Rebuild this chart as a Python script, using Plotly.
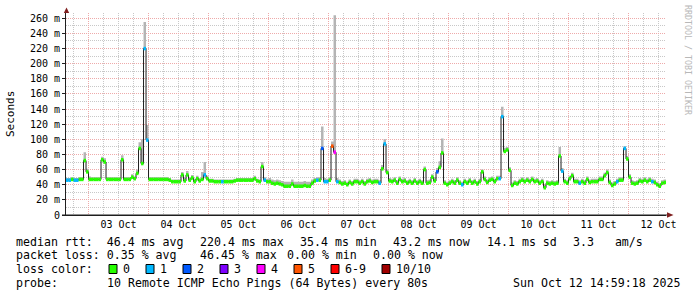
import plotly.graph_objects as go
import pandas as pd

# ---------------- data ----------------
# hourly median RTT in ms, starting 2025-10-02 15:00
median_ms = [
    # Oct 2 (15h..23h)
    46, 46, 47, 46, 46, 47, 47, 72, 57,
    # Oct 3
    47, 47, 47, 47, 47, 73, 70, 47, 47, 47, 47, 47, 47, 73, 47, 47, 47, 50, 48, 55, 88, 68, 220, 99,
    # Oct 4
    47, 47, 47, 47, 47, 47, 47, 47, 46, 44, 44, 44, 44, 53, 45, 53, 46, 49, 44, 48, 45, 47, 53, 48,
    # Oct 5
    45, 45, 44, 44, 44, 44, 44, 44, 44, 44, 45, 46, 46, 46, 46, 46, 46, 46, 48, 45, 44, 64, 46, 44,
    # Oct 6
    44, 42, 41, 42, 41, 40, 38, 38, 38, 41, 38, 38, 38, 38, 39, 38, 38, 42, 45, 46, 46, 88, 44, 44,
    # Oct 7
    46, 91, 83, 44, 43, 41, 42, 40, 43, 41, 44, 44, 42, 44, 41, 44, 45, 43, 44, 44, 42, 61, 94, 56,
    # Oct 8
    45, 44, 46, 42, 47, 44, 45, 42, 44, 42, 45, 42, 44, 42, 60, 42, 43, 50, 45, 57, 63, 82, 42, 40,
    # Oct 9
    42, 44, 42, 46, 42, 40, 44, 42, 45, 42, 44, 41, 44, 57, 47, 43, 46, 47, 44, 48, 48, 130, 84, 86,
    # Oct 10
    59, 39, 42, 41, 44, 46, 44, 46, 44, 47, 44, 45, 42, 44, 36, 42, 41, 42, 41, 42, 78, 58, 44, 42,
    # Oct 11
    48, 52, 44, 44, 42, 44, 42, 47, 43, 44, 44, 44, 47, 47, 52, 56, 43, 39, 41, 44, 46, 46, 88, 74,
    # Oct 12 (0h..14h)
    50, 42, 41, 42, 45, 44, 46, 44, 46, 44, 43, 40, 38, 42, 43,
]
# height of the smoke (ping spread) above the median, ms
smoke_spread_ms = [
    3, 3, 3, 3, 3, 3, 3, 11, 4,
    4, 3, 3, 3, 3, 4, 5, 3, 3, 3, 3, 3, 3, 6, 3, 3, 3, 4, 3, 5, 8, 32, 35, 20,
    3, 3, 3, 3, 3, 3, 3, 3, 3, 3, 3, 3, 3, 4, 4, 5, 4, 4, 4, 4, 4, 10, 17, 4,
    3, 3, 3, 3, 3, 3, 3, 3, 3, 3, 3, 3, 3, 3, 3, 3, 3, 3, 4, 3, 3, 6, 4, 4,
    5, 5, 5, 5, 5, 5, 6, 6, 6, 6, 6, 6, 6, 6, 6, 6, 6, 5, 4, 4, 4, 29, 5, 4,
    4, 6, 181, 5, 4, 4, 4, 4, 4, 4, 4, 4, 4, 4, 4, 4, 4, 4, 4, 4, 4, 5, 6, 4,
    4, 4, 4, 4, 4, 4, 4, 4, 4, 4, 4, 4, 4, 4, 4, 4, 4, 4, 5, 5, 8, 19, 4, 4,
    4, 4, 4, 4, 4, 4, 4, 4, 4, 4, 4, 4, 4, 3, 4, 4, 4, 4, 4, 4, 4, 13, 5, 4,
    4, 4, 4, 4, 4, 4, 4, 4, 4, 4, 4, 4, 4, 4, 4, 4, 4, 4, 4, 4, 12, 4, 4, 4,
    4, 4, 4, 4, 4, 4, 4, 4, 4, 4, 4, 4, 4, 4, 4, 4, 4, 4, 4, 4, 4, 4, 3, 4,
    4, 4, 4, 4, 4, 4, 4, 4, 4, 4, 4, 4, 4, 4, 4,
]
# hours (index into median_ms) with packet loss, and lost pings out of 10
loss_hours = [0, 1, 3, 4, 31, 32, 55, 62, 79, 100, 102, 103, 104, 106, 107, 108,
              125, 127, 148, 158, 173, 174, 198, 205, 220, 223, 234]
loss_counts = [1, 1, 1, 1, 1, 1, 1, 1, 1, 1, 2, 1, 1, 5, 4, 1,
               1, 1, 2, 1, 1, 1, 1, 1, 1, 1, 1]

loss_class_labels = ["0", "1", "2", "3", "4", "5", "6-9", "10/10"]
loss_class_colors = ["#26ff00", "#00b8ff", "#0059ff", "#7e00ff",
                     "#ff00ff", "#ff5500", "#ff0000", "#a00000"]

y_tick_values = [0, 20, 40, 60, 80, 100, 120, 140, 160, 180, 200, 220, 240, 260]
y_tick_labels = ["0", "20 m", "40 m", "60 m", "80 m", "100 m", "120 m", "140 m",
                 "160 m", "180 m", "200 m", "220 m", "240 m", "260 m"]

stats_line1 = ["median rtt:  46.4 ms avg", "220.4 ms max", "35.4 ms min",
               "43.2 ms now", "14.1 ms sd", "3.3   am/s"]
stats_line2 = ["packet loss: 0.35 % avg", "46.45 % max", "0.00 % min", "0.00 % now"]
probe_line = ["probe:", "10 Remote ICMP Echo Pings (64 Bytes) every 80s",
              "Sun Oct 12 14:59:18 2025"]

t_start = "2025-10-02 14:59:18"
t_end = "2025-10-12 14:59:18"
first_sample = "2025-10-02 15:00"

# ---------------- layout geometry ----------------
W, H = 697, 297
ML, MR, MT, MB = 66, 31, 13, 82
PW, PH = W - ML - MR, H - MT - MB
YMAX = 267.0
FONT = "DejaVu Sans Mono"


def px(x):
    return (x - ML) / PW


def py(y):
    return (H - MB - y) / PH


hours = pd.date_range(first_sample, periods=len(median_ms), freq="h")
one_h = pd.Timedelta(hours=1)
t_step = list(hours) + [hours[-1] + one_h]
med_step = median_ms + [median_ms[-1]]
top = [m + s for m, s in zip(median_ms, smoke_spread_ms)]
top_step = top + [top[-1]]

loss_of_hour = dict(zip(loss_hours, loss_counts))


def loss_class(n):
    if n <= 5:
        return n
    if n < 10:
        return 6
    return 7


fig = go.Figure()
# smoke
fig.add_trace(go.Scatter(x=t_step, y=med_step, mode="lines", line=dict(width=0, shape="hv"),
                         hoverinfo="skip", showlegend=False))
fig.add_trace(go.Scatter(x=t_step, y=top_step, mode="lines", line=dict(width=0, shape="hv"),
                         fill="tonexty", fillcolor="#b4b4b4", hoverinfo="skip", showlegend=False))
# median line
fig.add_trace(go.Scatter(x=t_step, y=med_step, mode="lines",
                         line=dict(width=1, color="#202020", shape="hv"),
                         hoverinfo="skip", showlegend=False))
# loss-coloured median bands
for ci, col in enumerate(loss_class_colors):
    xs, ys = [], []
    for i, m in enumerate(median_ms):
        if loss_class(loss_of_hour.get(i, 0)) == ci:
            xs += [hours[i], hours[i] + one_h, None]
            ys += [m, m, None]
    if xs:
        fig.add_trace(go.Scatter(x=xs, y=ys, mode="lines", line=dict(width=3.5, color=col),
                                 hoverinfo="skip", showlegend=False))

GRID = "#c8c8c8"
MGRID = "#eeaaaa"
DASH = "1px,1px"

fig.update_layout(
    width=W, height=H, margin=dict(l=ML, r=MR, t=MT, b=MB),
    paper_bgcolor="white", plot_bgcolor="white", showlegend=False,
    xaxis=dict(type="date", range=[t_start, t_end], dtick=86400000, tick0="2025-10-03 00:00",
               tickformat="%d %b", ticklabelmode="period", ticks="", showgrid=True,
               gridcolor=MGRID, griddash=DASH, gridwidth=1, zeroline=False,
               showline=True, linecolor="#1f1f1f", linewidth=1,
               tickfont=dict(family=FONT, size=10, color="black"),
               minor=dict(dtick=21600000, tick0="2025-10-03 00:00", showgrid=True,
                          gridcolor=GRID, griddash=DASH, gridwidth=1)),
    yaxis=dict(range=[0, YMAX], tickmode="array", tickvals=y_tick_values, ticktext=y_tick_labels,
               showgrid=True, gridcolor=MGRID, griddash=DASH, gridwidth=1, zeroline=False,
               ticks="outside", ticklen=3, tickcolor="#1f1f1f",
               showline=True, linecolor="#1f1f1f", linewidth=1,
               tickfont=dict(family=FONT, size=10, color="black"),
               minor=dict(tickmode="linear", tick0=0, dtick=10, showgrid=True,
                          gridcolor=GRID, griddash=DASH, gridwidth=1)),
)

ann = []


def text(x, y, s, size=11.6, color="black", angle=0, xanchor="left"):
    ann.append(dict(x=px(x), y=py(y), xref="paper", yref="paper", text=s, showarrow=False,
                    xanchor=xanchor, yanchor="middle", textangle=angle, borderpad=0,
                    font=dict(family=FONT, size=size, color=color)))


CW = 7.0
GAP = 16.3
row_y = [241.7, 255.4, 269.0, 282.7]

# line 1 and 2: items placed in order with rrdtool-like spacing
line1_x = [15, 199.3, 299, 392.3, 485.7, 572.3]
for s, x in zip(stats_line1, line1_x):
    text(x, row_y[0], s)
line2_x = [15, 199, 286, 372.3]
for s, x in zip(stats_line2, line2_x):
    text(x, row_y[1], s)
# line 3: loss colours
text(15, row_y[2], "loss color:")
bx = 109.0
shapes = []
for lab, col in zip(loss_class_labels, loss_class_colors):
    shapes.append(dict(type="rect", xref="paper", yref="paper", x0=px(bx), x1=px(bx + 8),
                       y0=py(row_y[2] + 4.5), y1=py(row_y[2] - 4.5), fillcolor=col,
                       line=dict(color="black", width=1)))
    text(bx + 13.3, row_y[2], lab)
    bx += 14.3 + CW * len(lab) + 15.7
# line 4
for s, x in zip(probe_line, [15, 106.3, 512.3]):
    text(x, row_y[3], s)

# y-axis title and watermark
text(10, 114, "Seconds", size=11, angle=-90, xanchor="center")
text(688, 60, "RRDTOOL / TOBI OETIKER", size=8.3, color="#b8b8b8", angle=90, xanchor="center")

# axis arrows
ARROW = "#7f1f1f"
shapes.append(dict(type="path", xref="paper", yref="paper", fillcolor=ARROW, line=dict(width=0),
                   path=f"M {px(66.5)},{py(7.5)} L {px(63.8)},{py(13)} L {px(69.2)},{py(13)} Z"))
shapes.append(dict(type="path", xref="paper", yref="paper", fillcolor=ARROW, line=dict(width=0),
                   path=f"M {px(673.5)},{py(215)} L {px(667)},{py(212.3)} L {px(667)},{py(217.7)} Z"))
shapes.append(dict(type="line", xref="paper", yref="paper", x0=px(62), x1=px(667),
                   y0=0, y1=0, line=dict(color="#1f1f1f", width=1)))

fig.update_layout(annotations=ann, shapes=shapes)
fig.write_html("out.html")
